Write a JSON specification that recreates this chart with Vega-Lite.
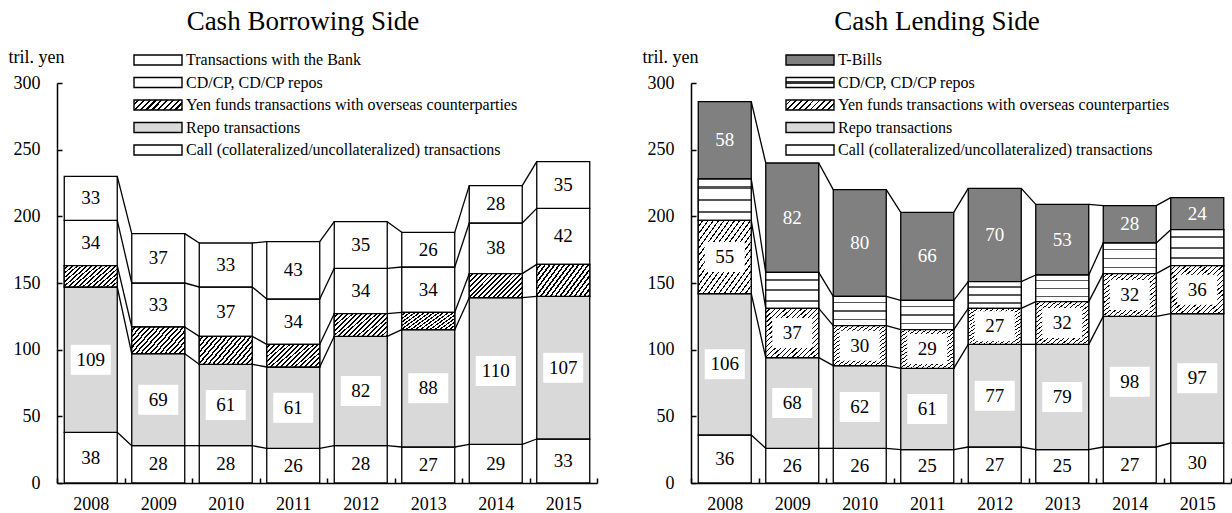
{
  "$schema": "https://vega.github.io/schema/vega-lite/v6.json",
  "padding": {"left": 8, "top": 8, "right": 0, "bottom": 0},
  "config": {
    "view": {"stroke": null},
    "font": "Liberation Serif",
    "axis": {"labelFont": "Liberation Serif", "labelFontSize": 18, "labelColor": "black", "domainColor": "black", "tickColor": "black", "domainWidth": 1.5, "tickWidth": 1.5, "titleFont": "Liberation Serif", "titleFontSize": 18, "titleFontWeight": "normal", "titleColor": "black", "grid": false},
    "legend": {"labelFont": "Liberation Serif", "labelFontSize": 16, "labelColor": "black", "labelLimit": 600},
    "title": {"font": "Liberation Serif", "fontSize": 27, "fontWeight": "normal", "color": "black"}
  },
  "datasets": {
    "borrow": [
      {"year": 2008, "cat": "Call (collateralized/uncollateralized) transactions", "order": 1, "value": 38},
      {"year": 2008, "cat": "Repo transactions", "order": 2, "value": 109},
      {"year": 2008, "cat": "Yen funds transactions with overseas counterparties", "order": 3, "value": 16},
      {"year": 2008, "cat": "CD/CP, CD/CP repos", "order": 4, "value": 34},
      {"year": 2008, "cat": "Transactions with the Bank", "order": 5, "value": 33},
      {"year": 2009, "cat": "Call (collateralized/uncollateralized) transactions", "order": 1, "value": 28},
      {"year": 2009, "cat": "Repo transactions", "order": 2, "value": 69},
      {"year": 2009, "cat": "Yen funds transactions with overseas counterparties", "order": 3, "value": 20},
      {"year": 2009, "cat": "CD/CP, CD/CP repos", "order": 4, "value": 33},
      {"year": 2009, "cat": "Transactions with the Bank", "order": 5, "value": 37},
      {"year": 2010, "cat": "Call (collateralized/uncollateralized) transactions", "order": 1, "value": 28},
      {"year": 2010, "cat": "Repo transactions", "order": 2, "value": 61},
      {"year": 2010, "cat": "Yen funds transactions with overseas counterparties", "order": 3, "value": 21},
      {"year": 2010, "cat": "CD/CP, CD/CP repos", "order": 4, "value": 37},
      {"year": 2010, "cat": "Transactions with the Bank", "order": 5, "value": 33},
      {"year": 2011, "cat": "Call (collateralized/uncollateralized) transactions", "order": 1, "value": 26},
      {"year": 2011, "cat": "Repo transactions", "order": 2, "value": 61},
      {"year": 2011, "cat": "Yen funds transactions with overseas counterparties", "order": 3, "value": 17},
      {"year": 2011, "cat": "CD/CP, CD/CP repos", "order": 4, "value": 34},
      {"year": 2011, "cat": "Transactions with the Bank", "order": 5, "value": 43},
      {"year": 2012, "cat": "Call (collateralized/uncollateralized) transactions", "order": 1, "value": 28},
      {"year": 2012, "cat": "Repo transactions", "order": 2, "value": 82},
      {"year": 2012, "cat": "Yen funds transactions with overseas counterparties", "order": 3, "value": 17},
      {"year": 2012, "cat": "CD/CP, CD/CP repos", "order": 4, "value": 34},
      {"year": 2012, "cat": "Transactions with the Bank", "order": 5, "value": 35},
      {"year": 2013, "cat": "Call (collateralized/uncollateralized) transactions", "order": 1, "value": 27},
      {"year": 2013, "cat": "Repo transactions", "order": 2, "value": 88},
      {"year": 2013, "cat": "Yen funds transactions with overseas counterparties", "order": 3, "value": 13},
      {"year": 2013, "cat": "CD/CP, CD/CP repos", "order": 4, "value": 34},
      {"year": 2013, "cat": "Transactions with the Bank", "order": 5, "value": 26},
      {"year": 2014, "cat": "Call (collateralized/uncollateralized) transactions", "order": 1, "value": 29},
      {"year": 2014, "cat": "Repo transactions", "order": 2, "value": 110},
      {"year": 2014, "cat": "Yen funds transactions with overseas counterparties", "order": 3, "value": 18},
      {"year": 2014, "cat": "CD/CP, CD/CP repos", "order": 4, "value": 38},
      {"year": 2014, "cat": "Transactions with the Bank", "order": 5, "value": 28},
      {"year": 2015, "cat": "Call (collateralized/uncollateralized) transactions", "order": 1, "value": 33},
      {"year": 2015, "cat": "Repo transactions", "order": 2, "value": 107},
      {"year": 2015, "cat": "Yen funds transactions with overseas counterparties", "order": 3, "value": 24},
      {"year": 2015, "cat": "CD/CP, CD/CP repos", "order": 4, "value": 42},
      {"year": 2015, "cat": "Transactions with the Bank", "order": 5, "value": 35}
    ],
    "lend": [
      {"year": 2008, "cat": "Call (collateralized/uncollateralized) transactions", "order": 1, "value": 36},
      {"year": 2008, "cat": "Repo transactions", "order": 2, "value": 106},
      {"year": 2008, "cat": "Yen funds transactions with overseas counterparties", "order": 3, "value": 55},
      {"year": 2008, "cat": "CD/CP, CD/CP repos", "order": 4, "value": 31},
      {"year": 2008, "cat": "T-Bills", "order": 5, "value": 58},
      {"year": 2009, "cat": "Call (collateralized/uncollateralized) transactions", "order": 1, "value": 26},
      {"year": 2009, "cat": "Repo transactions", "order": 2, "value": 68},
      {"year": 2009, "cat": "Yen funds transactions with overseas counterparties", "order": 3, "value": 37},
      {"year": 2009, "cat": "CD/CP, CD/CP repos", "order": 4, "value": 27},
      {"year": 2009, "cat": "T-Bills", "order": 5, "value": 82},
      {"year": 2010, "cat": "Call (collateralized/uncollateralized) transactions", "order": 1, "value": 26},
      {"year": 2010, "cat": "Repo transactions", "order": 2, "value": 62},
      {"year": 2010, "cat": "Yen funds transactions with overseas counterparties", "order": 3, "value": 30},
      {"year": 2010, "cat": "CD/CP, CD/CP repos", "order": 4, "value": 22},
      {"year": 2010, "cat": "T-Bills", "order": 5, "value": 80},
      {"year": 2011, "cat": "Call (collateralized/uncollateralized) transactions", "order": 1, "value": 25},
      {"year": 2011, "cat": "Repo transactions", "order": 2, "value": 61},
      {"year": 2011, "cat": "Yen funds transactions with overseas counterparties", "order": 3, "value": 29},
      {"year": 2011, "cat": "CD/CP, CD/CP repos", "order": 4, "value": 22},
      {"year": 2011, "cat": "T-Bills", "order": 5, "value": 66},
      {"year": 2012, "cat": "Call (collateralized/uncollateralized) transactions", "order": 1, "value": 27},
      {"year": 2012, "cat": "Repo transactions", "order": 2, "value": 77},
      {"year": 2012, "cat": "Yen funds transactions with overseas counterparties", "order": 3, "value": 27},
      {"year": 2012, "cat": "CD/CP, CD/CP repos", "order": 4, "value": 20},
      {"year": 2012, "cat": "T-Bills", "order": 5, "value": 70},
      {"year": 2013, "cat": "Call (collateralized/uncollateralized) transactions", "order": 1, "value": 25},
      {"year": 2013, "cat": "Repo transactions", "order": 2, "value": 79},
      {"year": 2013, "cat": "Yen funds transactions with overseas counterparties", "order": 3, "value": 32},
      {"year": 2013, "cat": "CD/CP, CD/CP repos", "order": 4, "value": 20},
      {"year": 2013, "cat": "T-Bills", "order": 5, "value": 53},
      {"year": 2014, "cat": "Call (collateralized/uncollateralized) transactions", "order": 1, "value": 27},
      {"year": 2014, "cat": "Repo transactions", "order": 2, "value": 98},
      {"year": 2014, "cat": "Yen funds transactions with overseas counterparties", "order": 3, "value": 32},
      {"year": 2014, "cat": "CD/CP, CD/CP repos", "order": 4, "value": 23},
      {"year": 2014, "cat": "T-Bills", "order": 5, "value": 28},
      {"year": 2015, "cat": "Call (collateralized/uncollateralized) transactions", "order": 1, "value": 30},
      {"year": 2015, "cat": "Repo transactions", "order": 2, "value": 97},
      {"year": 2015, "cat": "Yen funds transactions with overseas counterparties", "order": 3, "value": 36},
      {"year": 2015, "cat": "CD/CP, CD/CP repos", "order": 4, "value": 27},
      {"year": 2015, "cat": "T-Bills", "order": 5, "value": 24}
    ]
  },
  "spacing": 44,
  "resolve": {"scale": {"fill": "independent", "stroke": "independent", "x": "independent", "y": "independent"}, "legend": {"fill": "independent", "stroke": "independent"}},
  "hconcat": [
    {
      "width": 540,
      "height": 400,
      "title": {"text": "Cash Borrowing Side", "frame": "bounds", "anchor": "middle", "offset": 12},
      "data": {"name": "borrow"},
      "transform": [
        {"stack": "value", "groupby": ["year"], "sort": [{"field": "order"}], "as": ["y0", "y1"]},
        {"calculate": "(datum.y0 + datum.y1) / 2", "as": "mid"},
        {"window": [{"op": "lead", "field": "y1", "as": "next"}, {"op": "lead", "field": "year", "as": "nextYear"}], "groupby": ["cat"], "sort": [{"field": "year"}]}
      ],
      "layer": [
        {
          "mark": {"type": "bar", "width": {"band": 0.785}, "strokeWidth": 1.3},
          "encoding": {
            "x": {"field": "year", "type": "ordinal", "scale": {"paddingInner": 0, "paddingOuter": 0},
                  "axis": {"title": null, "labelAngle": 0, "tickBand": "extent", "tickSize": -5, "labelPadding": 17}},
            "y": {"field": "y1", "type": "quantitative", "scale": {"domain": [0, 300]},
                  "axis": {"values": [0, 50, 100, 150, 200, 250, 300], "title": "tril. yen", "titleAngle": 0, "titleX": -49, "titleY": -21, "titleAlign": "left", "titleBaseline": "alphabetic", "tickSize": -5, "labelPadding": 22}},
            "y2": {"field": "y0"},
            "fill": {"field": "order", "type": "nominal",
              "scale": {"domain": [1, 2, 3, 4, 5], "range": ["#ffffff", "#d9d9d9", "#999999", "#ffffff", "#ffffff"]},
              "legend": null
            },
            "stroke": {"field": "cat", "type": "nominal",
              "scale": {
                "domain": ["Transactions with the Bank", "CD/CP, CD/CP repos", "Yen funds transactions with overseas counterparties", "Repo transactions", "Call (collateralized/uncollateralized) transactions"],
                "range": ["#000000", "#000000", "#000000", "#000000", "#000000"]
              },
              "legend": {"title": null, "orient": "none", "legendX": 93, "legendY": -31, "symbolType": "M-4.8,-1L4.8,-1L4.8,1L-4.8,1Z", "symbolSize": 100, "symbolStrokeWidth": 1.4, "symbolOpacity": 1, "rowPadding": 6.5, "labelOffset": 20,
                "encoding": {"symbols": {
                  "strokeWidth": {"value": 1.4},
                  "fill": {"value": {"signal": "datum.value === 'Yen funds transactions with overseas counterparties' ? {gradient: 'linear', x1: 0, y1: 0, x2: 1.158, y2: 0.241, stops: [{offset: 0, color: '#fff'}, {offset: 0.06, color: '#fff'}, {offset: 0.06, color: '#000'}, {offset: 0.1, color: '#000'}, {offset: 0.1, color: '#fff'}, {offset: 0.16, color: '#fff'}, {offset: 0.16, color: '#000'}, {offset: 0.2, color: '#000'}, {offset: 0.2, color: '#fff'}, {offset: 0.26, color: '#fff'}, {offset: 0.26, color: '#000'}, {offset: 0.3, color: '#000'}, {offset: 0.3, color: '#fff'}, {offset: 0.36, color: '#fff'}, {offset: 0.36, color: '#000'}, {offset: 0.4, color: '#000'}, {offset: 0.4, color: '#fff'}, {offset: 0.46, color: '#fff'}, {offset: 0.46, color: '#000'}, {offset: 0.5, color: '#000'}, {offset: 0.5, color: '#fff'}, {offset: 0.56, color: '#fff'}, {offset: 0.56, color: '#000'}, {offset: 0.6, color: '#000'}, {offset: 0.6, color: '#fff'}, {offset: 0.66, color: '#fff'}, {offset: 0.66, color: '#000'}, {offset: 0.7, color: '#000'}, {offset: 0.7, color: '#fff'}, {offset: 0.76, color: '#fff'}, {offset: 0.76, color: '#000'}, {offset: 0.8, color: '#000'}, {offset: 0.8, color: '#fff'}, {offset: 0.86, color: '#fff'}, {offset: 0.86, color: '#000'}, {offset: 0.9, color: '#000'}, {offset: 0.9, color: '#fff'}, {offset: 0.96, color: '#fff'}, {offset: 0.96, color: '#000'}, {offset: 1, color: '#000'}]} : datum.value === 'Repo transactions' ? '#d9d9d9' : '#ffffff'"}}
                }}
              }
            }
          }
        },
        {
          "transform": [{"filter": "datum.order == 3"}],
          "mark": {"type": "bar", "width": {"band": 0.785}, "stroke": "black", "strokeWidth": 1.3,
            "fill": {"gradient": "linear", "x1": 0, "y1": 0, "x2": 1.206, "y2": 0.543, "stops": [
                    {"offset": 0, "color": "#fff"}, {"offset": 0.0375, "color": "#fff"}, {"offset": 0.0375, "color": "#000"}, {"offset": 0.0625, "color": "#000"},
                    {"offset": 0.0625, "color": "#fff"}, {"offset": 0.1, "color": "#fff"}, {"offset": 0.1, "color": "#000"}, {"offset": 0.125, "color": "#000"},
                    {"offset": 0.125, "color": "#fff"}, {"offset": 0.1625, "color": "#fff"}, {"offset": 0.1625, "color": "#000"}, {"offset": 0.1875, "color": "#000"},
                    {"offset": 0.1875, "color": "#fff"}, {"offset": 0.225, "color": "#fff"}, {"offset": 0.225, "color": "#000"}, {"offset": 0.25, "color": "#000"},
                    {"offset": 0.25, "color": "#fff"}, {"offset": 0.2875, "color": "#fff"}, {"offset": 0.2875, "color": "#000"}, {"offset": 0.3125, "color": "#000"},
                    {"offset": 0.3125, "color": "#fff"}, {"offset": 0.35, "color": "#fff"}, {"offset": 0.35, "color": "#000"}, {"offset": 0.375, "color": "#000"},
                    {"offset": 0.375, "color": "#fff"}, {"offset": 0.4125, "color": "#fff"}, {"offset": 0.4125, "color": "#000"}, {"offset": 0.4375, "color": "#000"},
                    {"offset": 0.4375, "color": "#fff"}, {"offset": 0.475, "color": "#fff"}, {"offset": 0.475, "color": "#000"}, {"offset": 0.5, "color": "#000"},
                    {"offset": 0.5, "color": "#fff"}, {"offset": 0.5375, "color": "#fff"}, {"offset": 0.5375, "color": "#000"}, {"offset": 0.5625, "color": "#000"},
                    {"offset": 0.5625, "color": "#fff"}, {"offset": 0.6, "color": "#fff"}, {"offset": 0.6, "color": "#000"}, {"offset": 0.625, "color": "#000"},
                    {"offset": 0.625, "color": "#fff"}, {"offset": 0.6625, "color": "#fff"}, {"offset": 0.6625, "color": "#000"}, {"offset": 0.6875, "color": "#000"},
                    {"offset": 0.6875, "color": "#fff"}, {"offset": 0.725, "color": "#fff"}, {"offset": 0.725, "color": "#000"}, {"offset": 0.75, "color": "#000"},
                    {"offset": 0.75, "color": "#fff"}, {"offset": 0.7875, "color": "#fff"}, {"offset": 0.7875, "color": "#000"}, {"offset": 0.8125, "color": "#000"},
                    {"offset": 0.8125, "color": "#fff"}, {"offset": 0.85, "color": "#fff"}, {"offset": 0.85, "color": "#000"}, {"offset": 0.875, "color": "#000"},
                    {"offset": 0.875, "color": "#fff"}, {"offset": 0.9125, "color": "#fff"}, {"offset": 0.9125, "color": "#000"}, {"offset": 0.9375, "color": "#000"},
                    {"offset": 0.9375, "color": "#fff"}, {"offset": 0.975, "color": "#fff"}, {"offset": 0.975, "color": "#000"}, {"offset": 1, "color": "#000"}
            ]}},
          "encoding": {
            "x": {"field": "year", "type": "ordinal"},
            "y": {"field": "y1", "type": "quantitative"},
            "y2": {"field": "y0"}
          }
        },
        {
          "transform": [{"filter": "datum.nextYear != null"}],
          "mark": {"type": "rule", "xOffset": 26.5, "x2Offset": -26.5, "color": "black", "strokeWidth": 1.3},
          "encoding": {
            "x": {"field": "year", "type": "ordinal"},
            "x2": {"field": "nextYear"},
            "y": {"field": "y1", "type": "quantitative"},
            "y2": {"field": "next"}
          }
        },
        {
          "transform": [{"filter": "datum.order != 3"}],
          "mark": {"type": "point", "shape": "M-1,-0.75L1,-0.75L1,0.75L-1,0.75Z", "size": 1600, "filled": true, "color": "white", "opacity": 1, "strokeWidth": 0},
          "encoding": {
            "x": {"field": "year", "type": "ordinal"},
            "y": {"field": "mid", "type": "quantitative"}
          }
        },
        {
          "transform": [{"filter": "datum.order != 3"}],
          "mark": {"type": "text", "font": "Liberation Serif", "fontSize": 19, "baseline": "middle", "align": "center"},
          "encoding": {
            "x": {"field": "year", "type": "ordinal"},
            "y": {"field": "mid", "type": "quantitative"},
            "text": {"field": "value", "type": "quantitative"},
            "color": {"value": "black"}
          }
        }
      ]
    },
    {
      "width": 540,
      "height": 400,
      "title": {"text": "Cash Lending Side", "frame": "bounds", "anchor": "middle", "offset": 12},
      "data": {"name": "lend"},
      "transform": [
        {"stack": "value", "groupby": ["year"], "sort": [{"field": "order"}], "as": ["y0", "y1"]},
        {"calculate": "(datum.y0 + datum.y1) / 2", "as": "mid"},
        {"window": [{"op": "lead", "field": "y1", "as": "next"}, {"op": "lead", "field": "year", "as": "nextYear"}], "groupby": ["cat"], "sort": [{"field": "year"}]}
      ],
      "layer": [
        {
          "mark": {"type": "bar", "width": {"band": 0.785}, "strokeWidth": 1.3},
          "encoding": {
            "x": {"field": "year", "type": "ordinal", "scale": {"paddingInner": 0, "paddingOuter": 0},
                  "axis": {"title": null, "labelAngle": 0, "tickBand": "extent", "tickSize": -5, "labelPadding": 17}},
            "y": {"field": "y1", "type": "quantitative", "scale": {"domain": [0, 300]},
                  "axis": {"values": [0, 50, 100, 150, 200, 250, 300], "title": "tril. yen", "titleAngle": 0, "titleX": -49, "titleY": -21, "titleAlign": "left", "titleBaseline": "alphabetic", "tickSize": -5, "labelPadding": 22}},
            "y2": {"field": "y0"},
            "fill": {"field": "order", "type": "nominal",
              "scale": {"domain": [1, 2, 3, 4, 5], "range": ["#ffffff", "#d9d9d9", "#bbbbbb", "#ffffff", "#808080"]},
              "legend": null
            },
            "stroke": {"field": "cat", "type": "nominal",
              "scale": {
                "domain": ["T-Bills", "CD/CP, CD/CP repos", "Yen funds transactions with overseas counterparties", "Repo transactions", "Call (collateralized/uncollateralized) transactions"],
                "range": ["#000000", "#000000", "#000000", "#000000", "#000000"]
              },
              "legend": {"title": null, "orient": "none", "legendX": 111, "legendY": -31, "symbolType": "M-4.8,-1L4.8,-1L4.8,1L-4.8,1Z", "symbolSize": 100, "symbolStrokeWidth": 1.4, "symbolOpacity": 1, "rowPadding": 6.5, "labelOffset": 20,
                "encoding": {"symbols": {
                  "strokeWidth": {"value": 1.4},
                  "fill": {"value": {"signal": "datum.value === 'Yen funds transactions with overseas counterparties' ? {gradient: 'linear', x1: 0, y1: 0, x2: 1.158, y2: 0.241, stops: [{offset: 0, color: '#fff'}, {offset: 0.07, color: '#fff'}, {offset: 0.07, color: '#000'}, {offset: 0.1, color: '#000'}, {offset: 0.1, color: '#fff'}, {offset: 0.17, color: '#fff'}, {offset: 0.17, color: '#000'}, {offset: 0.2, color: '#000'}, {offset: 0.2, color: '#fff'}, {offset: 0.27, color: '#fff'}, {offset: 0.27, color: '#000'}, {offset: 0.3, color: '#000'}, {offset: 0.3, color: '#fff'}, {offset: 0.37, color: '#fff'}, {offset: 0.37, color: '#000'}, {offset: 0.4, color: '#000'}, {offset: 0.4, color: '#fff'}, {offset: 0.47, color: '#fff'}, {offset: 0.47, color: '#000'}, {offset: 0.5, color: '#000'}, {offset: 0.5, color: '#fff'}, {offset: 0.57, color: '#fff'}, {offset: 0.57, color: '#000'}, {offset: 0.6, color: '#000'}, {offset: 0.6, color: '#fff'}, {offset: 0.67, color: '#fff'}, {offset: 0.67, color: '#000'}, {offset: 0.7, color: '#000'}, {offset: 0.7, color: '#fff'}, {offset: 0.77, color: '#fff'}, {offset: 0.77, color: '#000'}, {offset: 0.8, color: '#000'}, {offset: 0.8, color: '#fff'}, {offset: 0.87, color: '#fff'}, {offset: 0.87, color: '#000'}, {offset: 0.9, color: '#000'}, {offset: 0.9, color: '#fff'}, {offset: 0.97, color: '#fff'}, {offset: 0.97, color: '#000'}, {offset: 1, color: '#000'}]} : datum.value === 'CD/CP, CD/CP repos' ? {gradient: 'linear', x1: 0, y1: 0, x2: 0, y2: 1, stops: [{offset: 0, color: '#fff'}, {offset: 0.35, color: '#fff'}, {offset: 0.35, color: '#333'}, {offset: 0.65, color: '#333'}, {offset: 0.65, color: '#fff'}, {offset: 1, color: '#fff'}]} : datum.value === 'T-Bills' ? '#808080' : datum.value === 'Repo transactions' ? '#d9d9d9' : '#ffffff'"}}
                }}
              }
            }
          }
        },
        {
          "transform": [{"filter": "datum.order == 4"}],
          "mark": {"type": "bar", "width": {"band": 0.785}, "stroke": "black", "strokeWidth": 1.3,
            "fill": {"gradient": "linear", "x1": 0, "y1": 0, "x2": 0, "y2": 1, "stops": [
                    {"offset": 0, "color": "#fff"}, {"offset": 0.18, "color": "#fff"}, {"offset": 0.18, "color": "#555"}, {"offset": 0.23, "color": "#555"},
                    {"offset": 0.23, "color": "#fff"}, {"offset": 0.475, "color": "#fff"}, {"offset": 0.475, "color": "#555"}, {"offset": 0.525, "color": "#555"},
                    {"offset": 0.525, "color": "#fff"}, {"offset": 0.77, "color": "#fff"}, {"offset": 0.77, "color": "#555"}, {"offset": 0.82, "color": "#555"},
                    {"offset": 0.82, "color": "#fff"}, {"offset": 1, "color": "#fff"}
            ]}},
          "encoding": {
            "x": {"field": "year", "type": "ordinal"},
            "y": {"field": "y1", "type": "quantitative"},
            "y2": {"field": "y0"}
          }
        },
        {
          "transform": [{"filter": "datum.order == 3"}],
          "mark": {"type": "bar", "width": {"band": 0.785}, "stroke": "black", "strokeWidth": 1.3,
            "fill": {"gradient": "linear", "x1": 0, "y1": 0, "x2": 1, "y2": 1, "stops": [
                    {"offset": 0, "color": "#fff"}, {"offset": 0.0375, "color": "#fff"}, {"offset": 0.0375, "color": "#000"}, {"offset": 0.05, "color": "#000"},
                    {"offset": 0.05, "color": "#fff"}, {"offset": 0.0875, "color": "#fff"}, {"offset": 0.0875, "color": "#000"}, {"offset": 0.1, "color": "#000"},
                    {"offset": 0.1, "color": "#fff"}, {"offset": 0.1375, "color": "#fff"}, {"offset": 0.1375, "color": "#000"}, {"offset": 0.15, "color": "#000"},
                    {"offset": 0.15, "color": "#fff"}, {"offset": 0.1875, "color": "#fff"}, {"offset": 0.1875, "color": "#000"}, {"offset": 0.2, "color": "#000"},
                    {"offset": 0.2, "color": "#fff"}, {"offset": 0.2375, "color": "#fff"}, {"offset": 0.2375, "color": "#000"}, {"offset": 0.25, "color": "#000"},
                    {"offset": 0.25, "color": "#fff"}, {"offset": 0.2875, "color": "#fff"}, {"offset": 0.2875, "color": "#000"}, {"offset": 0.3, "color": "#000"},
                    {"offset": 0.3, "color": "#fff"}, {"offset": 0.3375, "color": "#fff"}, {"offset": 0.3375, "color": "#000"}, {"offset": 0.35, "color": "#000"},
                    {"offset": 0.35, "color": "#fff"}, {"offset": 0.3875, "color": "#fff"}, {"offset": 0.3875, "color": "#000"}, {"offset": 0.4, "color": "#000"},
                    {"offset": 0.4, "color": "#fff"}, {"offset": 0.4375, "color": "#fff"}, {"offset": 0.4375, "color": "#000"}, {"offset": 0.45, "color": "#000"},
                    {"offset": 0.45, "color": "#fff"}, {"offset": 0.4875, "color": "#fff"}, {"offset": 0.4875, "color": "#000"}, {"offset": 0.5, "color": "#000"},
                    {"offset": 0.5, "color": "#fff"}, {"offset": 0.5375, "color": "#fff"}, {"offset": 0.5375, "color": "#000"}, {"offset": 0.55, "color": "#000"},
                    {"offset": 0.55, "color": "#fff"}, {"offset": 0.5875, "color": "#fff"}, {"offset": 0.5875, "color": "#000"}, {"offset": 0.6, "color": "#000"},
                    {"offset": 0.6, "color": "#fff"}, {"offset": 0.6375, "color": "#fff"}, {"offset": 0.6375, "color": "#000"}, {"offset": 0.65, "color": "#000"},
                    {"offset": 0.65, "color": "#fff"}, {"offset": 0.6875, "color": "#fff"}, {"offset": 0.6875, "color": "#000"}, {"offset": 0.7, "color": "#000"},
                    {"offset": 0.7, "color": "#fff"}, {"offset": 0.7375, "color": "#fff"}, {"offset": 0.7375, "color": "#000"}, {"offset": 0.75, "color": "#000"},
                    {"offset": 0.75, "color": "#fff"}, {"offset": 0.7875, "color": "#fff"}, {"offset": 0.7875, "color": "#000"}, {"offset": 0.8, "color": "#000"},
                    {"offset": 0.8, "color": "#fff"}, {"offset": 0.8375, "color": "#fff"}, {"offset": 0.8375, "color": "#000"}, {"offset": 0.85, "color": "#000"},
                    {"offset": 0.85, "color": "#fff"}, {"offset": 0.8875, "color": "#fff"}, {"offset": 0.8875, "color": "#000"}, {"offset": 0.9, "color": "#000"},
                    {"offset": 0.9, "color": "#fff"}, {"offset": 0.9375, "color": "#fff"}, {"offset": 0.9375, "color": "#000"}, {"offset": 0.95, "color": "#000"},
                    {"offset": 0.95, "color": "#fff"}, {"offset": 0.9875, "color": "#fff"}, {"offset": 0.9875, "color": "#000"}, {"offset": 1, "color": "#000"}
            ]}},
          "encoding": {
            "x": {"field": "year", "type": "ordinal"},
            "y": {"field": "y1", "type": "quantitative"},
            "y2": {"field": "y0"}
          }
        },
        {
          "transform": [{"filter": "datum.nextYear != null"}],
          "mark": {"type": "rule", "xOffset": 26.5, "x2Offset": -26.5, "color": "black", "strokeWidth": 1.3},
          "encoding": {
            "x": {"field": "year", "type": "ordinal"},
            "x2": {"field": "nextYear"},
            "y": {"field": "y1", "type": "quantitative"},
            "y2": {"field": "next"}
          }
        },
        {
          "transform": [{"filter": "datum.order != 4 && datum.order != 5"}],
          "mark": {"type": "point", "shape": "M-1,-0.75L1,-0.75L1,0.75L-1,0.75Z", "size": 1600, "filled": true, "color": "white", "opacity": 1, "strokeWidth": 0},
          "encoding": {
            "x": {"field": "year", "type": "ordinal"},
            "y": {"field": "mid", "type": "quantitative"}
          }
        },
        {
          "transform": [{"filter": "datum.order != 4"}],
          "mark": {"type": "text", "font": "Liberation Serif", "fontSize": 19, "baseline": "middle", "align": "center"},
          "encoding": {
            "x": {"field": "year", "type": "ordinal"},
            "y": {"field": "mid", "type": "quantitative"},
            "text": {"field": "value", "type": "quantitative"},
            "color": {"condition": {"test": "datum.order == 5", "value": "white"}, "value": "black"}
          }
        }
      ]
    }
  ]
}
